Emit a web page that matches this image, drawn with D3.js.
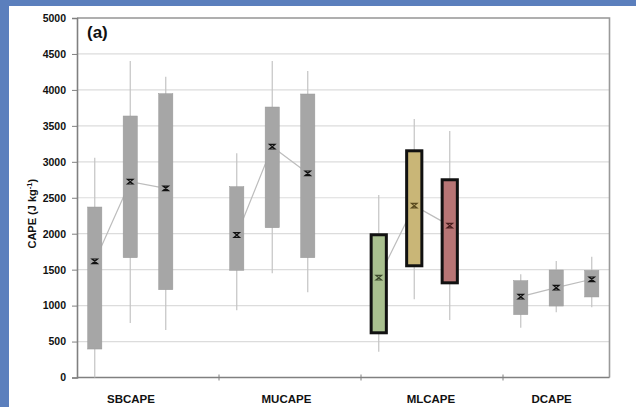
<!DOCTYPE html>
<html>
<head>
<meta charset="utf-8">
<script src="https://cdn.jsdelivr.net/npm/d3@7"></script>
<style>
  html, body { margin: 0; padding: 0; background: #fff; }
  svg { display: block; }
  text { font-family: "Liberation Sans", Arial, sans-serif; font-weight: bold; fill: #111; }
</style>
</head>
<body>
<script>
// ---- data ----
const categories = ["SBCAPE", "MUCAPE", "MLCAPE", "DCAPE"];
const yTicks = [0, 500, 1000, 1500, 2000, 2500, 3000, 3500, 4000, 4500, 5000];
const boxGroup = [0, 0, 0, 1, 1, 1, 2, 2, 2, 3, 3, 3];
const boxMin  = [0, 758, 660,    934, 1449, 1185,   359, 1088, 800,    693, 907, 976];
const boxQ1   = [396, 1666, 1221, 1491, 2083, 1666,  601, 1533, 1296,   874, 994, 1120];
const boxQ3   = [2371, 3637, 3947, 2654, 3762, 3943, 2006, 3174, 2771,  1347, 1495, 1491];
const boxMax  = [3057, 4402, 4184, 3118, 4402, 4263, 2538, 3595, 3428,  1435, 1620, 1680];
const boxMean = [1616, 2723, 2631, 1982, 3210, 2840, 1388, 2390, 2112,  1124, 1249, 1366];
const panelLabel = "(a)";

// ---- styles ----
const grayFill = "#a6a6a6";
const specialFill = { 6: "#a9c08f", 7: "#c9b677", 8: "#b87575" };
const specialMark = { 6: "#3d4a2c", 7: "#5a4a1e", 8: "#4a1e1e" };

const W = 636, H = 407;
const svg = d3.select("body").append("svg").attr("width", W).attr("height", H);

// blue frame
svg.append("rect").attr("x", 0).attr("y", 0).attr("width", W).attr("height", 6).attr("fill", "#5b7fbd");
svg.append("rect").attr("x", 0).attr("y", 0).attr("width", 9).attr("height", H).attr("fill", "#5b7fbd");

const mLeft = 77, mRight = 609.5, mTop = 18, mBottom = 377.5;
const slots = d3.range(15);
const x = d3.scaleBand().domain(slots).range([mLeft, mRight]).padding(0);
const slotOf = (i) => boxGroup[i] * 4 + (i % 3);
const cx = (i) => x(slotOf(i)) + x.bandwidth() / 2;
const y = d3.scaleLinear().domain([0, 5000]).range([mBottom, mTop]);

// gridlines
svg.append("g").selectAll("line").data(yTicks.filter(d => d > 0)).join("line")
  .attr("x1", mLeft).attr("x2", mRight)
  .attr("y1", d => y(d)).attr("y2", d => y(d))
  .attr("stroke", "#dcdcdc").attr("stroke-width", 1.2);

// frame (top & right)
svg.append("path")
  .attr("d", `M${mLeft},${mTop}H${mRight}V${mBottom}`)
  .attr("fill", "none").attr("stroke", "#9a9a9a").attr("stroke-width", 1.6);

// y axis
const yAxis = svg.append("g").attr("transform", `translate(${mLeft},0)`)
  .call(d3.axisLeft(y).tickValues(yTicks).tickSize(5).tickPadding(6).tickFormat(d3.format("d")));
yAxis.select(".domain").attr("stroke", "#808080").attr("stroke-width", 1.6);
yAxis.selectAll(".tick line").attr("stroke", "#808080").attr("stroke-width", 1);
yAxis.selectAll("text").style("font-size", "10.5px").style("font-family", "Liberation Sans, Arial, sans-serif")
  .style("font-weight", "bold").attr("fill", "#111");

// x axis line + separator ticks
svg.append("line").attr("x1", mLeft).attr("x2", mRight).attr("y1", mBottom).attr("y2", mBottom)
  .attr("stroke", "#808080").attr("stroke-width", 1.6);
svg.append("g").selectAll("line").data([4, 8, 12]).join("line")
  .attr("x1", d => x(d)).attr("x2", d => x(d))
  .attr("y1", mBottom - 3).attr("y2", mBottom + 3)
  .attr("stroke", "#808080").attr("stroke-width", 1);

// category labels (Excel-style placement, in slot units)
const labelSlot = [1.52, 5.9, 9.97, 13.37];
svg.append("g").selectAll("text").data(categories).join("text")
  .attr("x", (d, i) => mLeft + x.bandwidth() * labelSlot[i])
  .attr("y", 403).attr("text-anchor", "middle")
  .style("font-size", "11.5px").text(d => d);

// y axis title
const yt = svg.append("text")
  .attr("transform", `translate(36,${(mTop + mBottom) / 2 + 16}) rotate(-90)`)
  .attr("text-anchor", "middle").style("font-size", "11px");
yt.append("tspan").text("CAPE (J kg");
yt.append("tspan").attr("baseline-shift", "super").style("font-size", "7.5px").text("-1");
yt.append("tspan").text(")");

// panel label
svg.append("text").attr("x", 87).attr("y", 38).style("font-size", "17px").text(panelLabel);

const idx = d3.range(boxMean.length);

// whiskers
svg.append("g").selectAll("line").data(idx).join("line")
  .attr("x1", cx).attr("x2", cx)
  .attr("y1", i => y(boxMin[i])).attr("y2", i => y(boxMax[i]))
  .attr("stroke", "#c4c4c4").attr("stroke-width", 1.2);

// mean connecting lines
const lineGen = d3.line().x(i => cx(i)).y(i => y(boxMean[i]));
svg.append("g").selectAll("path").data(d3.groups(idx, i => boxGroup[i]).map(g => g[1])).join("path")
  .attr("d", lineGen).attr("fill", "none").attr("stroke", "#bdbdbd").attr("stroke-width", 1.2);

// boxes
const bw = x.bandwidth() * 0.4;
svg.append("g").selectAll("rect").data(idx).join("rect")
  .attr("x", i => cx(i) - (specialFill[i] ? bw / 2 + 0.5 : bw / 2))
  .attr("width", i => specialFill[i] ? bw + 1 : bw)
  .attr("y", i => y(boxQ3[i]) + (specialFill[i] ? 1.5 : 0))
  .attr("height", i => y(boxQ1[i]) - y(boxQ3[i]) - (specialFill[i] ? 3 : 0))
  .attr("fill", i => specialFill[i] || grayFill)
  .attr("stroke", i => specialFill[i] ? "#111" : "#999")
  .attr("stroke-width", i => specialFill[i] ? 3 : 0.5);

// mean markers (hourglass "x")
svg.append("g").selectAll("path").data(idx).join("path")
  .attr("transform", i => `translate(${cx(i)},${y(boxMean[i])})`)
  .attr("d", "M-2.8,-2.3H2.8L-2.8,2.3H2.8Z")
  .attr("fill", "none")
  .attr("stroke", i => specialMark[i] || "#111")
  .attr("stroke-width", 1.2);
</script>
</body>
</html>
